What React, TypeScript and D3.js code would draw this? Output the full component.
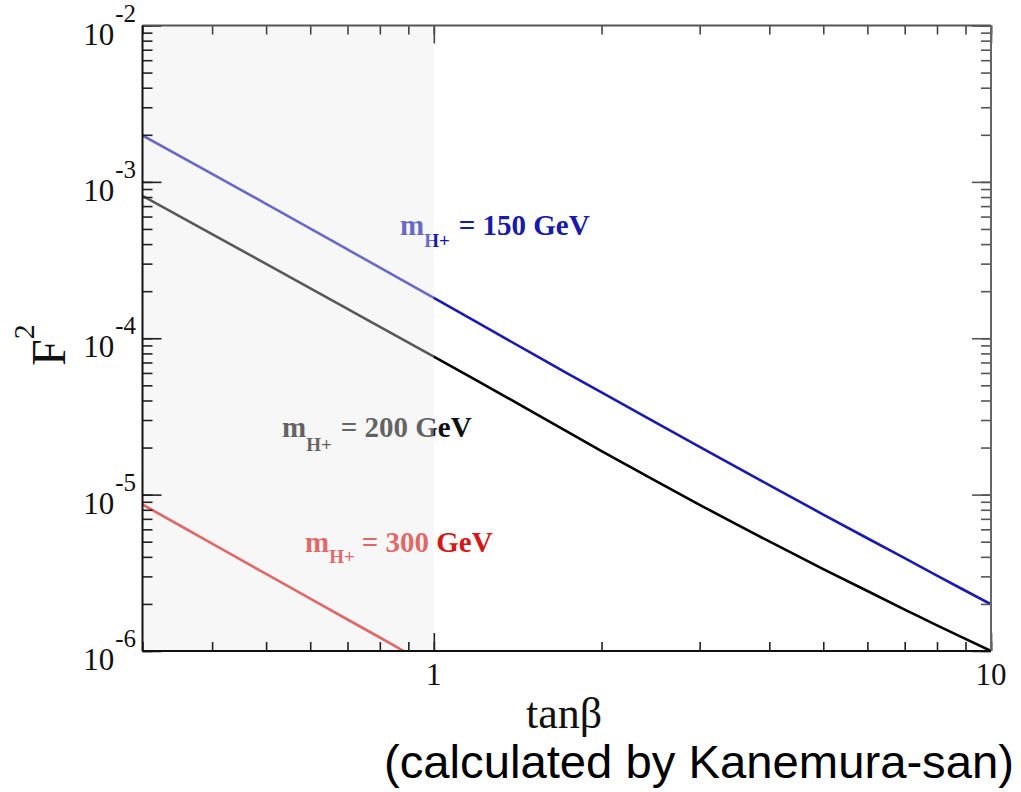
import React, { useRef, useEffect } from 'react';
import * as d3 from 'd3';

// values (tanβ vs F²)
const tanBeta = [0.3, 0.5, 0.7, 1, 1.5, 2, 3, 4, 5, 6, 7, 8, 10];
const f2Mass150 = [1.98e-3, 7.24e-4, 3.7e-4, 1.81e-4, 8.0e-5, 4.5e-5, 2.02e-5, 1.15e-5, 7.46e-6, 5.26e-6, 3.92e-6, 3.03e-6, 1.99e-6];
const f2Mass200 = [8.15e-4, 2.99e-4, 1.54e-4, 7.62e-5, 3.4e-5, 1.9e-5, 8.61e-6, 5.02e-6, 3.34e-6, 2.42e-6, 1.84e-6, 1.46e-6, 1.0e-6];
const tanBeta300 = [0.3, 0.4, 0.5, 0.6, 0.7, 0.8, 0.9];
const f2Mass300 = [8.65e-6, 4.86e-6, 3.11e-6, 2.16e-6, 1.59e-6, 1.22e-6, 9.6e-7];

const xTickLabels = [1, 10];
const yTickExponents = [-2, -3, -4, -5, -6];
const shadedUpTo = 1;

const SERIF = '"Liberation Serif", "DejaVu Serif", serif';
const SANS = '"Liberation Sans", Arial, sans-serif';

type Pt = { t: number; f: number };

export default function App() {
  const svgRef = useRef<SVGSVGElement>(null);

  useEffect(() => {
    if (!svgRef.current) return;
    const svg = d3.select(svgRef.current);
    svg.selectAll('*').remove();

    const left = 142.5, right = 991, top = 25.5, bottom = 651;
    const x = d3.scaleLog().domain([0.3, 10]).range([left, right]);
    const y = d3.scaleLog().domain([1e-6, 1e-2]).range([bottom, top]);

    svg.append('rect').attr('width', 1021).attr('height', 792).attr('fill', '#ffffff');

    svg.append('defs').append('clipPath').attr('id', 'plot-clip')
      .append('rect')
      .attr('x', left).attr('y', top)
      .attr('width', right - left).attr('height', bottom - top);

    // shaded background for tanβ < 1
    svg.append('rect')
      .attr('x', x(0.3)).attr('y', top)
      .attr('width', x(shadedUpTo) - x(0.3)).attr('height', bottom - top)
      .attr('fill', '#f7f7f7');

    const line = d3.line<Pt>()
      .x(d => x(d.t))
      .y(d => y(d.f))
      .curve(d3.curveCatmullRom.alpha(0.5));

    const series = [
      { ts: tanBeta, fs: f2Mass150, color: '#1a1ab0' },
      { ts: tanBeta, fs: f2Mass200, color: '#000000' },
      { ts: tanBeta300, fs: f2Mass300, color: '#d41818' },
    ];

    const plot = svg.append('g').attr('clip-path', 'url(#plot-clip)');
    series.forEach(s => {
      const pts: Pt[] = s.ts.map((t, i) => ({ t, f: s.fs[i] }));
      plot.append('path')
        .datum(pts)
        .attr('fill', 'none')
        .attr('stroke', s.color)
        .attr('stroke-width', 2.6)
        .attr('d', line);
    });

    // curve labels
    const labels = [
      { x: 400, y: 235, sub: 12, gap: 9, mass: '150', color: '#1a1aa8' },
      { x: 282, y: 437, sub: 14, gap: 9, mass: '200', color: '#111111' },
      { x: 305, y: 552, sub: 11, gap: 7, mass: '300', color: '#d41818' },
    ];
    labels.forEach(l => {
      const t = svg.append('text')
        .attr('x', l.x).attr('y', l.y)
        .attr('fill', l.color)
        .style('font-family', SERIF)
        .style('font-weight', 'bold')
        .style('font-size', '29px');
      t.append('tspan').text('m');
      t.append('tspan').attr('dy', l.sub).style('font-size', '19px').text('H+');
      t.append('tspan').attr('dy', -l.sub).attr('dx', l.gap).text(`= ${l.mass} GeV`);
    });

    // translucent overlay that lightens everything in the shaded band
    svg.append('rect')
      .attr('x', x(0.3)).attr('y', top)
      .attr('width', x(shadedUpTo) - x(0.3)).attr('height', bottom - top)
      .attr('fill', '#f7f7f7')
      .attr('opacity', 0.36);

    // ticks (minor + major on all four sides, pointing inward)
    const isMajor = (v: number) => Math.abs(Math.log10(v) - Math.round(Math.log10(v))) < 1e-6;
    const xTicks = x.ticks();
    const yTicks = y.ticks();
    const xMajor = xTicks.filter(isMajor);
    const yMajor = yTicks.filter(isMajor);

    const addAxis = (axis: d3.Axis<d3.NumberValue>, tx: number, ty: number, color: string) => {
      const g = svg.append('g').attr('transform', `translate(${tx},${ty})`).call(axis);
      g.select('.domain').remove();
      g.selectAll('line').attr('stroke', color).attr('stroke-width', 1.6);
      g.selectAll('text').remove();
    };

    addAxis(d3.axisBottom(x).tickValues(xTicks).tickSize(-9).tickFormat(() => ''), 0, bottom, '#222');
    addAxis(d3.axisBottom(x).tickValues(xMajor).tickSize(-18).tickFormat(() => ''), 0, bottom, '#222');
    addAxis(d3.axisTop(x).tickValues(xTicks).tickSize(-9).tickFormat(() => ''), 0, top, '#444');
    addAxis(d3.axisTop(x).tickValues(xMajor).tickSize(-18).tickFormat(() => ''), 0, top, '#444');
    addAxis(d3.axisLeft(y).tickValues(yTicks).tickSize(-10).tickFormat(() => ''), left, 0, '#222');
    addAxis(d3.axisLeft(y).tickValues(yMajor).tickSize(-19).tickFormat(() => ''), left, 0, '#222');
    addAxis(d3.axisRight(y).tickValues(yTicks).tickSize(-10).tickFormat(() => ''), right, 0, '#555');
    addAxis(d3.axisRight(y).tickValues(yMajor).tickSize(-19).tickFormat(() => ''), right, 0, '#555');

    // frame
    svg.append('line').attr('x1', left).attr('x2', right).attr('y1', top).attr('y2', top)
      .attr('stroke', '#555').attr('stroke-width', 2);
    svg.append('line').attr('x1', right).attr('x2', right).attr('y1', top).attr('y2', bottom)
      .attr('stroke', '#666').attr('stroke-width', 2);
    svg.append('line').attr('x1', left).attr('x2', left).attr('y1', top).attr('y2', bottom)
      .attr('stroke', '#111').attr('stroke-width', 2);
    svg.append('line').attr('x1', left).attr('x2', right).attr('y1', bottom).attr('y2', bottom)
      .attr('stroke', '#111').attr('stroke-width', 2);

    // x tick labels
    xTickLabels.forEach(v => {
      svg.append('text')
        .attr('x', x(v)).attr('y', 685)
        .attr('text-anchor', 'middle')
        .attr('fill', '#111')
        .style('font-family', SERIF)
        .style('font-size', '31px')
        .text(String(v));
    });

    // y tick labels 10^n
    yTickExponents.forEach(e => {
      const t = svg.append('text')
        .attr('x', 136).attr('y', y(Math.pow(10, e)) + 19)
        .attr('text-anchor', 'end')
        .attr('fill', '#111')
        .style('font-family', SERIF)
        .style('font-size', '31px');
      t.append('tspan').text('10');
      t.append('tspan').attr('dy', -23).attr('dx', 1).style('font-size', '25px').text(String(e));
    });

    // axis titles
    svg.append('text')
      .attr('x', 526).attr('y', 728)
      .attr('fill', '#111')
      .style('font-family', SERIF)
      .style('font-size', '44px')
      .text('tanβ');

    const yTitle = svg.append('text')
      .attr('transform', 'translate(65,366) rotate(-90)')
      .attr('fill', '#111')
      .style('font-family', SERIF)
      .style('font-size', '48px');
    yTitle.append('tspan').text('F');
    yTitle.append('tspan').attr('dy', -31).style('font-size', '30px').text('2');

    svg.append('text')
      .attr('x', 384).attr('y', 778)
      .attr('fill', '#000')
      .attr('textLength', 630)
      .attr('lengthAdjust', 'spacingAndGlyphs')
      .style('font-family', SANS)
      .style('font-size', '47px')
      .text('(calculated by Kanemura-san)');
  }, []);

  return (
    <svg
      ref={svgRef}
      width={1021}
      height={792}
      style={{ position: 'absolute', left: 0, top: 0, display: 'block' }}
    />
  );
}
